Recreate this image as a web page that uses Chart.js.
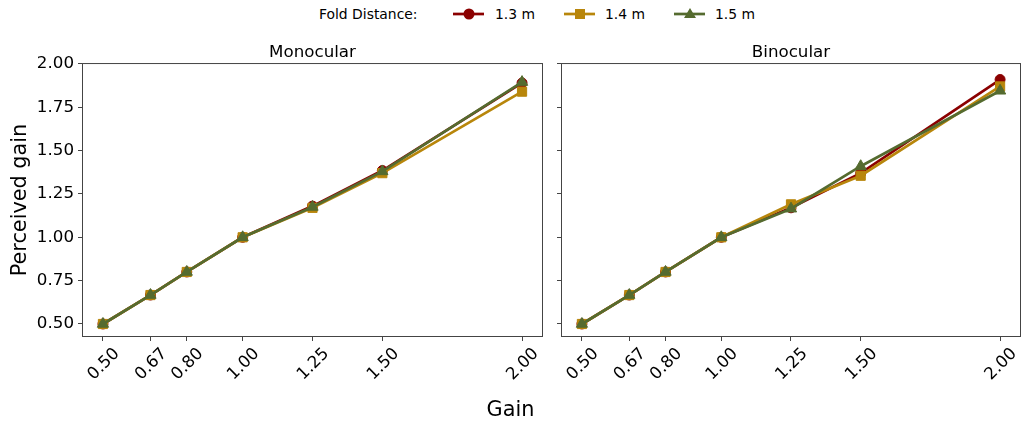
<!DOCTYPE html>
<html>
<head>
<meta charset="utf-8">
<script src="https://cdn.jsdelivr.net/npm/chart.js@4/dist/chart.umd.min.js"></script>
<style>
  body { margin: 0; background: #fff; font-family: "DejaVu Sans", sans-serif; }
  #wrap { position: relative; width: 1021px; height: 422px; }
  .box { position: absolute; top: 0; height: 422px; }
  #gainLabel { position: absolute; left: 0; width: 1021px; top: 397px; text-align: center; font-size: 20.8px; color: #000; }
</style>
</head>
<body>
<div id="wrap">
  <svg id="legend" width="1021" height="30" style="position:absolute;left:0;top:0" font-family="DejaVu Sans" font-size="13.9">
    <text x="319" y="19" fill="#000">Fold Distance:</text>
    <line x1="453" y1="14" x2="484" y2="14" stroke="#8b0000" stroke-width="2.7"/>
    <circle cx="469" cy="14" r="5.5" fill="#8b0000"/>
    <text x="495" y="19" fill="#000">1.3 m</text>
    <line x1="564" y1="14" x2="595" y2="14" stroke="#b8860b" stroke-width="2.7"/>
    <rect x="575" y="9" width="10" height="10" fill="#b8860b"/>
    <text x="605" y="19" fill="#000">1.4 m</text>
    <line x1="674" y1="14" x2="705" y2="14" stroke="#556b2f" stroke-width="2.7"/>
    <polygon points="690,8 696,18 684,18" fill="#556b2f"/>
    <text x="715" y="19" fill="#000">1.5 m</text>
  </svg>
  <div class="box" style="left:0;width:550px"><canvas id="mono" width="550" height="422"></canvas></div>
  <div class="box" style="left:550px;width:471px"><canvas id="bino" width="471" height="422"></canvas></div>
  <div id="gainLabel">Gain</div>
</div>
<script>
const gains = [0.50, 0.67, 0.80, 1.00, 1.25, 1.50, 2.00];
const yTicks = [0.50, 0.75, 1.00, 1.25, 1.50, 1.75, 2.00];
const distances = ["1.3 m", "1.4 m", "1.5 m"];

const mono13 = [0.50, 0.667, 0.80, 1.00, 1.18, 1.385, 1.89];
const mono14 = [0.50, 0.667, 0.80, 1.00, 1.17, 1.37, 1.84];
const mono15 = [0.50, 0.667, 0.80, 1.00, 1.175, 1.38, 1.895];

const bino13 = [0.50, 0.667, 0.80, 1.00, 1.17, 1.37, 1.91];
const bino14 = [0.50, 0.667, 0.80, 1.00, 1.19, 1.355, 1.87];
const bino15 = [0.50, 0.667, 0.80, 1.00, 1.165, 1.41, 1.845];

const colors = ["#8b0000", "#b8860b", "#556b2f"];
const shapes = ["circle", "rect", "triangle"];
const radii = [5, 6.5, 6.5];

function makeSets(series) {
  return series.map((vals, i) => ({
    label: distances[i],
    data: vals.map((v, j) => ({ x: gains[j], y: v })),
    order: series.length - i, // later series drawn on top
    borderColor: colors[i],
    backgroundColor: colors[i],
    borderWidth: 2.7,
    pointStyle: shapes[i],
    pointRadius: radii[i],
    pointBorderWidth: 1,
    pointBorderColor: colors[i],
    pointBackgroundColor: colors[i],
    tension: 0
  }));
}

// matplotlib style frame round the plot area
const frame = {
  id: "frame",
  afterDraw(chart) {
    const { ctx, chartArea: a } = chart;
    ctx.save();
    ctx.strokeStyle = "#444";
    ctx.lineWidth = 1;
    ctx.strokeRect(a.left + 0.5, a.top + 0.5, a.right - a.left - 1, a.bottom - a.top - 1);
    ctx.restore();
  }
};

function makeChart(id, title, series, showY, padLeft, yWidth, padRight) {
  return new Chart(document.getElementById(id), {
    type: "line",
    data: { datasets: makeSets(series) },
    plugins: [frame],
    options: {
      responsive: false,
      animation: false,
      layout: { autoPadding: false, padding: { top: 43, right: padRight, bottom: 0, left: padLeft } },
      plugins: {
        legend: { display: false },
        tooltip: { enabled: false },
        title: {
          display: true, text: title, color: "#000", fullSize: false,
          font: { family: "DejaVu Sans", size: 16.7, weight: "normal" },
          padding: { top: 0, bottom: 0 }
        }
      },
      scales: {
        x: {
          type: "linear", min: 0.425, max: 2.075,
          afterBuildTicks: s => { s.ticks = gains.map(v => ({ value: v })); },
          afterFit: s => { s.height = 85; s.paddingLeft = 0; s.paddingRight = 0; },
          border: { display: false },
          grid: { display: true, drawOnChartArea: false, drawTicks: true, tickLength: 4, tickColor: "#444" },
          ticks: {
            autoSkip: false, minRotation: 45, maxRotation: 45, labelOffset: 14,
            color: "#000", font: { family: "DejaVu Sans", size: 16.7 },
            callback: v => Number(v).toFixed(2)
          }
        },
        y: {
          type: "linear", min: 0.425, max: 2.005,
          afterBuildTicks: s => { s.ticks = yTicks.map(v => ({ value: v })); },
          afterFit: s => { s.width = yWidth; },
          border: { display: false },
          grid: { display: true, drawOnChartArea: false, drawTicks: true, tickLength: 4, tickColor: "#444" },
          title: {
            display: showY, text: "Perceived gain", color: "#000",
            font: { family: "DejaVu Sans", size: 20.8 }, padding: { top: 4, bottom: 4 }
          },
          ticks: {
            display: showY, color: "#000", padding: 4,
            font: { family: "DejaVu Sans", size: 16.7 },
            callback: v => Number(v).toFixed(2)
          }
        }
      }
    }
  });
}

makeChart("mono", "Monocular", [mono13, mono14, mono15], true, 4, 78, 7);
makeChart("bino", "Binocular", [bino13, bino14, bino15], false, 0, 11, 0);
</script>
</body>
</html>
